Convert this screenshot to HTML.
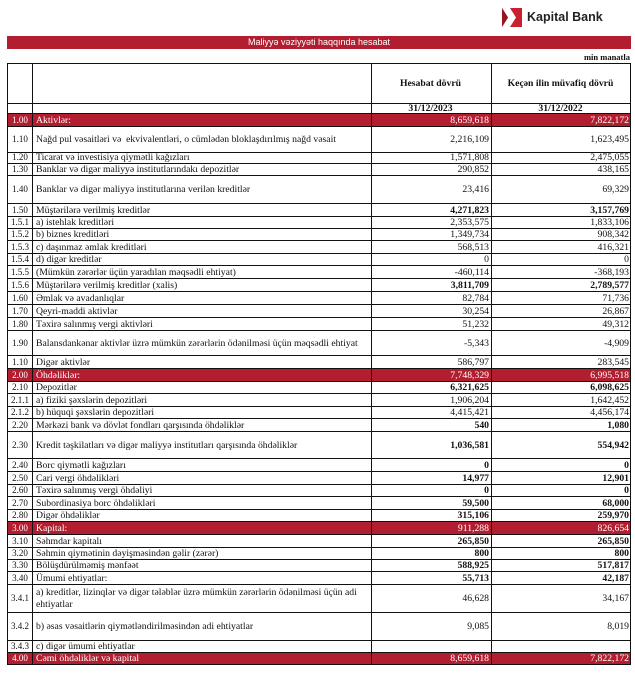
<!DOCTYPE html>
<html><head><meta charset="utf-8"><style>
body{margin:0;width:635px;height:683px;background:#fff;position:relative;overflow:hidden;font-family:"Liberation Serif",serif;font-size:9.7px;color:#111}
.r{position:absolute;left:7px;width:624px;border-top:1px solid #111;box-sizing:border-box}
.c{position:absolute;top:0;bottom:0;display:flex;align-items:flex-end;padding-bottom:0;box-sizing:border-box;white-space:nowrap;line-height:11px}
.n{left:0;width:25px;border-left:1px solid #111;justify-content:center;font-size:9px}
.l{left:25px;width:339px;border-left:1px solid #111;padding-left:3px}
.a{left:364px;width:120px;border-left:1px solid #111;justify-content:flex-end;padding-right:2px}
.b{left:484px;width:140px;border-left:1px solid #111;border-right:1px solid #111;justify-content:flex-end;padding-right:1px}
.t .c{align-items:center}
.red{background:#b21d30;color:#fff}
.bo .a,.bo .b{font-weight:bold}
</style></head><body>
<svg style="position:absolute;left:502px;top:8px" width="20" height="19" viewBox="0 0 20 19"><rect width="20" height="19" fill="#c8202f"/><polygon points="0,0 8,0 14,9.5 8,19 0,19 6,9.5" fill="#fff"/><polygon points="0,0 6,9.5 0,19" fill="#9a1522"/></svg>
<div style="position:absolute;left:527px;top:10px;font-family:'Liberation Sans',sans-serif;font-weight:bold;font-size:12.5px;color:#222">Kapital Bank</div>
<div style="position:absolute;left:7px;top:36px;width:624px;height:13px;background:#b21d30;color:#fff;font-family:'Liberation Sans',sans-serif;font-size:9px;text-align:center;line-height:13px">Maliyyə vəziyyəti haqqında hesabat</div>
<div style="position:absolute;right:5px;top:52px;font-weight:bold;font-size:8.5px">min manatla</div>

<div class="r t" style="top:63px;height:40px"><div class="c n"></div><div class="c l"></div><div class="c a" style="justify-content:center;font-weight:bold">Hesabat dövrü</div><div class="c b" style="justify-content:center;font-weight:bold">Keçən ilin müvafiq dövrü</div></div>
<div class="r" style="top:103px;height:10px"><div class="c n"></div><div class="c l"></div><div class="c a" style="justify-content:center;font-weight:bold;line-height:9px">31/12/2023</div><div class="c b" style="justify-content:center;font-weight:bold;line-height:9px">31/12/2022</div></div>
<div class="r red" style="top:113px;height:13px"><div class="c n">1.00</div><div class="c l">Aktivlər:</div><div class="c a">8,659,618</div><div class="c b">7,822,172</div></div>
<div class="r t" style="top:126px;height:26px"><div class="c n">1.10</div><div class="c l">Nağd pul vəsaitləri və &nbsp;ekvivalentləri, o cümlədən bloklaşdırılmış nağd vəsait</div><div class="c a">2,216,109</div><div class="c b">1,623,495</div></div>
<div class="r" style="top:152px;height:11px"><div class="c n">1.20</div><div class="c l">Ticarət və investisiya qiymətli kağızları</div><div class="c a">1,571,808</div><div class="c b">2,475,055</div></div>
<div class="r" style="top:163px;height:12px"><div class="c n">1.30</div><div class="c l">Banklar və digər maliyyə institutlarındakı depozitlər</div><div class="c a">290,852</div><div class="c b">438,165</div></div>
<div class="r t" style="top:175px;height:28px"><div class="c n">1.40</div><div class="c l">Banklar və digər maliyyə institutlarına verilən kreditlər</div><div class="c a">23,416</div><div class="c b">69,329</div></div>
<div class="r bo" style="top:203px;height:13px"><div class="c n">1.50</div><div class="c l">Müştərilərə verilmiş kreditlər</div><div class="c a">4,271,823</div><div class="c b">3,157,769</div></div>
<div class="r" style="top:216px;height:12px"><div class="c n">1.5.1</div><div class="c l">a) istehlak kreditləri</div><div class="c a">2,353,575</div><div class="c b">1,833,106</div></div>
<div class="r" style="top:228px;height:12px"><div class="c n">1.5.2</div><div class="c l">b) biznes kreditləri</div><div class="c a">1,349,734</div><div class="c b">908,342</div></div>
<div class="r" style="top:240px;height:13px"><div class="c n">1.5.3</div><div class="c l">c) daşınmaz əmlak kreditləri</div><div class="c a">568,513</div><div class="c b">416,321</div></div>
<div class="r" style="top:253px;height:12px"><div class="c n">1.5.4</div><div class="c l">d) digər kreditlər</div><div class="c a">0</div><div class="c b">0</div></div>
<div class="r" style="top:265px;height:13px"><div class="c n">1.5.5</div><div class="c l">(Mümkün zərərlər üçün yaradılan məqsədli ehtiyat)</div><div class="c a">-460,114</div><div class="c b">-368,193</div></div>
<div class="r bo" style="top:278px;height:13px"><div class="c n">1.5.6</div><div class="c l">Müştərilərə verilmiş kreditlər (xalis)</div><div class="c a">3,811,709</div><div class="c b">2,789,577</div></div>
<div class="r" style="top:291px;height:13px"><div class="c n">1.60</div><div class="c l">Əmlak və avadanlıqlar</div><div class="c a">82,784</div><div class="c b">71,736</div></div>
<div class="r" style="top:304px;height:13px"><div class="c n">1.70</div><div class="c l">Qeyri-maddi aktivlər</div><div class="c a">30,254</div><div class="c b">26,867</div></div>
<div class="r" style="top:317px;height:13px"><div class="c n">1.80</div><div class="c l">Təxirə salınmış vergi aktivləri</div><div class="c a">51,232</div><div class="c b">49,312</div></div>
<div class="r t" style="top:330px;height:25px"><div class="c n">1.90</div><div class="c l">Balansdankənar aktivlər üzrə mümkün zərərlərin ödənilməsi üçün məqsədli ehtiyat</div><div class="c a">-5,343</div><div class="c b">-4,909</div></div>
<div class="r" style="top:355px;height:13px"><div class="c n">1.10</div><div class="c l">Digər aktivlər</div><div class="c a">586,797</div><div class="c b">283,545</div></div>
<div class="r red" style="top:368px;height:13px"><div class="c n">2.00</div><div class="c l">Öhdəliklər:</div><div class="c a">7,748,329</div><div class="c b">6,995,518</div></div>
<div class="r bo" style="top:381px;height:12px"><div class="c n">2.10</div><div class="c l">Depozitlər</div><div class="c a">6,321,625</div><div class="c b">6,098,625</div></div>
<div class="r" style="top:393px;height:13px"><div class="c n">2.1.1</div><div class="c l">a) fiziki şəxslərin depozitləri</div><div class="c a">1,906,204</div><div class="c b">1,642,452</div></div>
<div class="r" style="top:406px;height:12px"><div class="c n">2.1.2</div><div class="c l">b) hüquqi şəxslərin depozitləri</div><div class="c a">4,415,421</div><div class="c b">4,456,174</div></div>
<div class="r bo" style="top:418px;height:13px"><div class="c n">2.20</div><div class="c l">Mərkəzi bank və dövlət fondları qarşısında öhdəliklər</div><div class="c a">540</div><div class="c b">1,080</div></div>
<div class="r t bo" style="top:431px;height:27px"><div class="c n">2.30</div><div class="c l">Kredit təşkilatları və digər maliyyə institutları qarşısında öhdəliklər</div><div class="c a">1,036,581</div><div class="c b">554,942</div></div>
<div class="r bo" style="top:458px;height:13px"><div class="c n">2.40</div><div class="c l">Borc qiymətli kağızları</div><div class="c a">0</div><div class="c b">0</div></div>
<div class="r bo" style="top:471px;height:13px"><div class="c n">2.50</div><div class="c l">Cari vergi öhdəlikləri</div><div class="c a">14,977</div><div class="c b">12,901</div></div>
<div class="r bo" style="top:484px;height:12px"><div class="c n">2.60</div><div class="c l">Təxirə salınmış vergi öhdəliyi</div><div class="c a">0</div><div class="c b">0</div></div>
<div class="r bo" style="top:496px;height:13px"><div class="c n">2.70</div><div class="c l">Subordinasiya borc öhdəlikləri</div><div class="c a">59,500</div><div class="c b">68,000</div></div>
<div class="r bo" style="top:509px;height:12px"><div class="c n">2.80</div><div class="c l">Digər öhdəliklər</div><div class="c a">315,106</div><div class="c b">259,970</div></div>
<div class="r red" style="top:521px;height:13px"><div class="c n">3.00</div><div class="c l">Kapital:</div><div class="c a">911,288</div><div class="c b">826,654</div></div>
<div class="r bo" style="top:534px;height:13px"><div class="c n">3.10</div><div class="c l">Səhmdar kapitalı</div><div class="c a">265,850</div><div class="c b">265,850</div></div>
<div class="r bo" style="top:547px;height:12px"><div class="c n">3.20</div><div class="c l">Səhmin qiymətinin dəyişməsindən gəlir (zərər)</div><div class="c a">800</div><div class="c b">800</div></div>
<div class="r bo" style="top:559px;height:12px"><div class="c n">3.30</div><div class="c l">Bölüşdürülməmiş mənfəət</div><div class="c a">588,925</div><div class="c b">517,817</div></div>
<div class="r bo" style="top:571px;height:13px"><div class="c n">3.40</div><div class="c l">Ümumi ehtiyatlar:</div><div class="c a">55,713</div><div class="c b">42,187</div></div>
<div class="r t" style="top:584px;height:28px"><div class="c n">3.4.1</div><div class="c l" style="white-space:normal;line-height:12px">a) kreditlər, lizinqlər və digər tələblər üzrə mümkün zərərlərin ödənilməsi üçün adi<br>ehtiyatlar</div><div class="c a">46,628</div><div class="c b">34,167</div></div>
<div class="r t" style="top:612px;height:28px"><div class="c n">3.4.2</div><div class="c l">b) əsas vəsaitlərin qiymətləndirilməsindən adi ehtiyatlar</div><div class="c a">9,085</div><div class="c b">8,019</div></div>
<div class="r" style="top:640px;height:12px"><div class="c n">3.4.3</div><div class="c l">c) digər ümumi ehtiyatlar</div><div class="c a"></div><div class="c b"></div></div>
<div class="r red" style="top:652px;height:13px;border-bottom:1px solid #111"><div class="c n">4.00</div><div class="c l">Cəmi öhdəliklər və kapital</div><div class="c a">8,659,618</div><div class="c b">7,822,172</div></div>
</body></html>
